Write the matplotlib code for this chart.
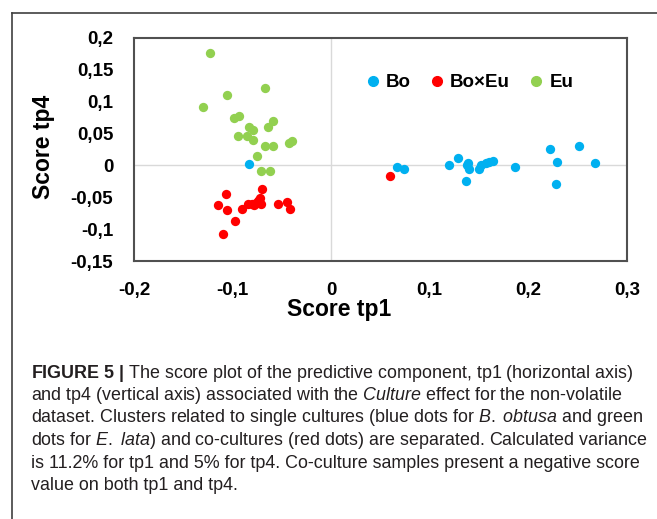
import matplotlib.pyplot as plt
from matplotlib.lines import Line2D

# score values
bo_tp1 = [-0.083, 0.067, 0.074, 0.120, 0.129, 0.138, 0.140, 0.139, 0.137, 0.150,
          0.152, 0.157, 0.160, 0.164, 0.187, 0.222, 0.229, 0.228, 0.252, 0.268]
bo_tp4 = [0.002, -0.003, -0.005, 0.001, 0.011, 0.001, -0.005, 0.004, -0.024, -0.005,
          0.000, 0.003, 0.005, 0.007, -0.002, 0.025, 0.006, -0.029, 0.030, 0.004]

boeu_tp1 = [-0.107, -0.070, -0.115, -0.106, -0.098, -0.110, -0.090, -0.084, -0.080,
            -0.076, -0.072, -0.073, -0.071, -0.054, -0.045, -0.042, 0.060, -0.074, -0.078]
boeu_tp4 = [-0.045, -0.037, -0.062, -0.070, -0.087, -0.108, -0.068, -0.060, -0.060,
            -0.059, -0.051, -0.055, -0.060, -0.060, -0.057, -0.068, -0.016, -0.056, -0.062]

eu_tp1 = [-0.123, -0.130, -0.106, -0.067, -0.099, -0.093, -0.059, -0.064, -0.083, -0.079,
          -0.094, -0.085, -0.079, -0.067, -0.059, -0.043, -0.040, -0.075, -0.071, -0.062]
eu_tp4 = [0.176, 0.091, 0.111, 0.121, 0.075, 0.077, 0.069, 0.060, 0.060, 0.056,
          0.046, 0.046, 0.040, 0.030, 0.030, 0.035, 0.038, 0.015, -0.009, -0.008]

x_ticks = [-0.2, -0.1, 0, 0.1, 0.2, 0.3]
x_labels = ['-0,2', '-0,1', '0', '0,1', '0,2', '0,3']
y_ticks = [0.2, 0.15, 0.1, 0.05, 0, -0.05, -0.1, -0.15]
y_labels = ['0,2', '0,15', '0,1', '0,05', '0', '-0,05', '-0,1', '-0,15']

caption = [
    r"$\mathbf{FIGURE}$ $\mathbf{5}$ $\mathbf{|}$ The score plot of the predictive component, tp1 (horizontal axis)",
    r"and tp4 (vertical axis) associated with the $\mathit{Culture}$ effect for the non-volatile",
    r"dataset. Clusters related to single cultures (blue dots for $\mathit{B.}$ $\mathit{obtusa}$ and green",
    r"dots for $\mathit{E.}$ $\mathit{lata}$) and co-cultures (red dots) are separated. Calculated variance",
    r"is 11.2% for tp1 and 5% for tp4. Co-culture samples present a negative score",
    r"value on both tp1 and tp4.",
]

plt.rcParams['font.family'] = 'Liberation Sans'
plt.rcParams['mathtext.fontset'] = 'custom'
plt.rcParams['mathtext.rm'] = 'Liberation Sans'
plt.rcParams['mathtext.it'] = 'Liberation Sans:italic'
plt.rcParams['mathtext.bf'] = 'Liberation Sans:bold'

fig = plt.figure(figsize=(6.57, 5.19), dpi=100)
ax = fig.add_axes([0.204, 0.497, 0.750, 0.430])

blue, red, green = '#00B0F0', '#FF0000', '#92D050'

ax.axhline(0, color='#D9D9D9', lw=1, zorder=0)
ax.axvline(0, color='#D9D9D9', lw=1, zorder=0)
ax.scatter(bo_tp1, bo_tp4, s=45, color=blue, lw=0, zorder=3)
ax.scatter(boeu_tp1, boeu_tp4, s=45, color=red, lw=0, zorder=3)
ax.scatter(eu_tp1, eu_tp4, s=45, color=green, lw=0, zorder=3)

ax.set_xlim(-0.2, 0.3)
ax.set_ylim(-0.15, 0.2)
ax.set_xticks(x_ticks)
ax.set_xticklabels(x_labels)
ax.set_yticks(y_ticks)
ax.set_yticklabels(y_labels)
ax.tick_params(length=0, labelsize=13.5)
ax.tick_params(axis='y', pad=15)
ax.tick_params(axis='x', pad=15)
for lab in ax.get_xticklabels() + ax.get_yticklabels():
    lab.set_fontweight('bold')
for sp in ax.spines.values():
    sp.set_color('#505050')
    sp.set_linewidth(1.5)

ax.set_xlabel('Score tp1', fontsize=16.5, fontweight='bold', va='top')
ax.xaxis.set_label_coords(0.416, -0.165)
ax.set_ylabel('Score tp4', fontsize=16.5, fontweight='bold', va='center')
ax.yaxis.set_label_coords(-0.183, 0.51)

handles = [Line2D([], [], marker='o', ls='', color=c, markersize=7) for c in (blue, red, green)]
ax.legend(handles, ['Bo', 'Bo×Eu', 'Eu'], loc='center', bbox_to_anchor=(0.68, 0.80),
          ncol=3, frameon=False, handlelength=0.8, handletextpad=0.3, columnspacing=1.0,
          prop={'weight': 'bold', 'size': 13.5})

# outer frame of the figure panel
fig.add_artist(Line2D([12 / 657, 12 / 657], [0, 1 - 13 / 519], color='#404040', lw=1.2))
fig.add_artist(Line2D([12 / 657, 1], [1 - 13 / 519, 1 - 13 / 519], color='#404040', lw=1.2))

for i, line in enumerate(caption):
    fig.text(31 / 657, 1 - (373 + 22.5 * i) / 519, line, fontsize=12.9,
             color='#231F20', va='center', ha='left')

plt.savefig('out.png', dpi=100)
